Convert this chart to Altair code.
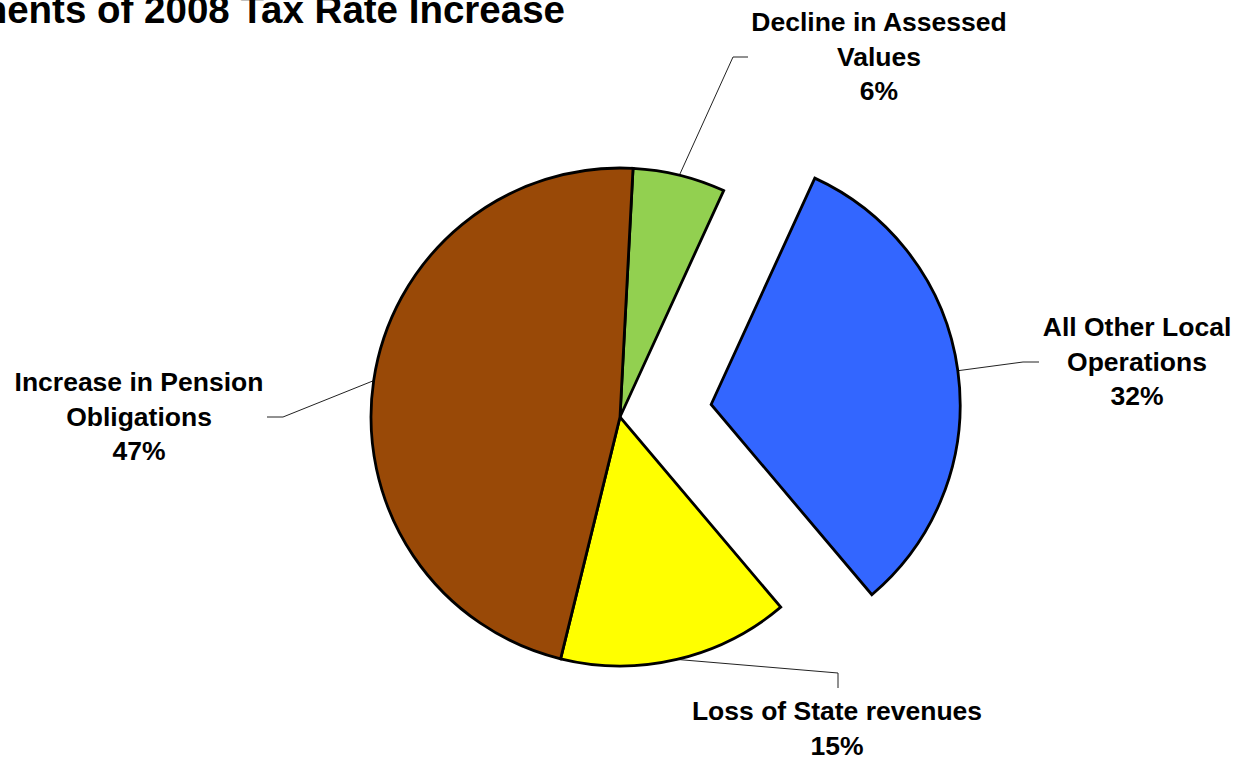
import math
import altair as alt
import pandas as pd

# ---------------- data ----------------
names = [
    "Decline in Assessed Values",
    "All Other Local Operations",
    "Loss of State revenues",
    "Increase in Pension Obligations",
]
values = [6, 32, 15, 47]
colors = ["#92D050", "#3366FF", "#FFFF00", "#994907"]
title_text = "Components of 2008 Tax Rate Increase"

# ---------------- layout / style ----------------
W, H = 1238, 760
CX, CY, R = 620, 417, 249
START_DEG = 3.0
explode = {"All Other Local Operations": 92}
label_lines = {
    "Decline in Assessed Values": ["Decline in Assessed", "Values"],
    "All Other Local Operations": ["All Other Local", "Operations"],
    "Loss of State revenues": ["Loss of State revenues"],
    "Increase in Pension Obligations": ["Increase in Pension", "Obligations"],
}
# centre of the first text line of each label
label_pos = {
    "Decline in Assessed Values": (879, 23),
    "All Other Local Operations": (1137, 328),
    "Loss of State revenues": (837, 712),
    "Increase in Pension Obligations": (139, 383),
}
leader_tail = {
    "Decline in Assessed Values": [(733, 57), (748, 57)],
    "All Other Local Operations": [(1023, 362), (1039, 362)],
    "Loss of State revenues": [(838, 673), (838, 688)],
    "Increase in Pension Obligations": [(283, 417), (267, 417)],
}
FONT = "Liberation Sans"

# ---------------- tables built from the data ----------------
total = sum(values)
rows, line_rows, text_rows = [], [], []
cum = 0.0
for n, v, c in zip(names, values, colors):
    s, e = cum, cum + v
    cum = e
    mid = math.radians(START_DEG) + 2 * math.pi * (s + e) / 2 / total
    off = explode.get(n, 0)
    cx = CX + off * math.sin(mid)
    cy = CY - off * math.cos(mid)
    rows.append({"name": n, "value": v, "start": s, "end": e, "cx": cx, "cy": cy})
    pts = [(cx + R * math.sin(mid), cy - R * math.cos(mid))] + leader_tail[n]
    for i, (px, py) in enumerate(pts):
        line_rows.append({"name": n, "seq": i, "x": px, "y": py})
    lx, ly = label_pos[n]
    text_rows.append({"name": n, "x": lx, "y": ly,
                      "label": "\n".join(label_lines[n] + [f"{v}%"])})

df = pd.DataFrame(rows)
df_lines = pd.DataFrame(line_rows)
df_text = pd.DataFrame(text_rows)

xs = alt.Scale(domain=[0, W], range=[0, W], nice=False, zero=False)
ys = alt.Scale(domain=[0, H], range=[0, H], nice=False, zero=False)
theta_scale = alt.Scale(
    domain=[0, total],
    range=[math.radians(START_DEG), math.radians(START_DEG) + 2 * math.pi],
)

leaders = alt.Chart(df_lines).mark_line(color="#222222", strokeWidth=1).encode(
    x=alt.X("x:Q", scale=xs, axis=None),
    y=alt.Y("y:Q", scale=ys, axis=None),
    detail="name:N",
    order="seq:O",
)

pie = alt.Chart(df).mark_arc(
    outerRadius=R, stroke="black", strokeWidth=2.8, strokeJoin="miter"
).encode(
    theta=alt.Theta("start:Q", scale=theta_scale),
    theta2="end:Q",
    x=alt.X("cx:Q", scale=xs, axis=None),
    y=alt.Y("cy:Q", scale=ys, axis=None),
    color=alt.Color("name:N", scale=alt.Scale(domain=names, range=colors), legend=None),
)

labels = alt.Chart(df_text).mark_text(
    font=FONT, fontWeight="bold", fontSize=26.5, lineBreak="\n", lineHeight=34.5,
    align="center", baseline="middle", color="black",
).encode(
    x=alt.X("x:Q", scale=xs, axis=None),
    y=alt.Y("y:Q", scale=ys, axis=None),
    text="label:N",
)

title = alt.Chart(pd.DataFrame({"t": [title_text]})).mark_text(
    font=FONT, fontWeight="bold", fontSize=38.5, align="right",
    baseline="alphabetic", color="black", clip=True,
).encode(
    x=alt.value(565), y=alt.value(23), text="t:N",
)

chart = alt.layer(leaders, pie, labels, title).properties(
    width=W, height=H,
    autosize=alt.AutoSizeParams(type="none"),
    padding=0,
    background="white",
).configure_view(stroke=None)

chart.save("out.html", embed_options={"renderer": "svg", "actions": False})
